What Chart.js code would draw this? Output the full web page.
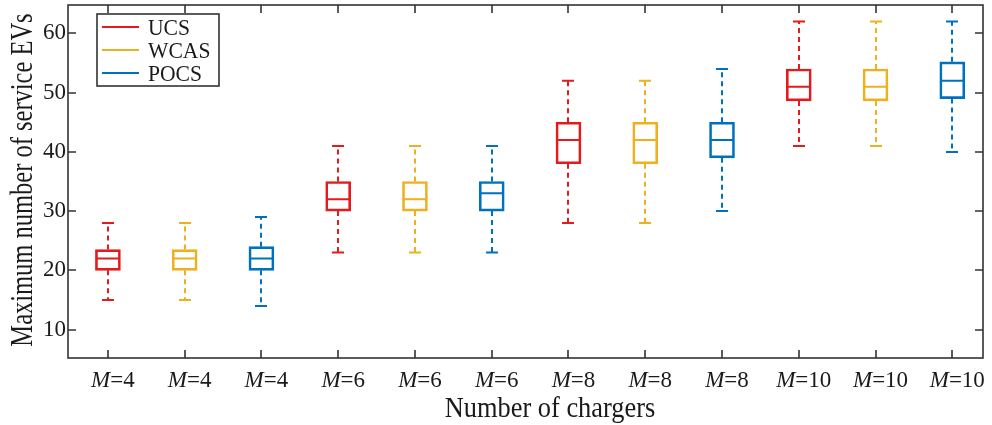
<!DOCTYPE html>
<html>
<head>
<meta charset="utf-8">
<script src="https://cdn.jsdelivr.net/npm/chart.js@4.4.0/dist/chart.umd.min.js"></script>
<style>
  html, body { margin: 0; padding: 0; background: #fff; }
  #wrap { width: 992px; height: 425px; }
</style>
</head>
<body>
<div id="wrap"><canvas id="chart"></canvas></div>
<script>
// tick labels along the bottom, one per box (M is drawn in italics)
const chargerLabels = ['M=4', 'M=4', 'M=4', 'M=6', 'M=6', 'M=6', 'M=8', 'M=8', 'M=8', 'M=10', 'M=10', 'M=10']
const yTicks = [10, 20, 30, 40, 50, 60]

const methodNames = ['UCS', 'WCAS', 'POCS']
const methodColors = ['#E41A1C', '#EDB120', '#0072BD']

// box positions on the x axis for each method (M = 4, 6, 8, 10)
const ucsPos = [1, 4, 7, 10]
const wcasPos = [2, 5, 8, 11]
const pocsPos = [3, 6, 9, 12]

// UCS
const ucsMin = [15, 23, 28, 41]
const ucsQ1 = [20, 30, 38, 48.6]
const ucsMed = [22, 32, 42, 51]
const ucsQ3 = [23.5, 35, 45, 54]
const ucsMax = [28, 41, 52, 62]

// WCAS
const wcasMin = [15, 23, 28, 41]
const wcasQ1 = [20, 30, 38, 48.6]
const wcasMed = [22, 32, 42, 51]
const wcasQ3 = [23.5, 35, 45, 54]
const wcasMax = [28, 41, 52, 62]

// POCS
const pocsMin = [14, 23, 30, 40]
const pocsQ1 = [20, 30, 39, 49]
const pocsMed = [22, 33, 42, 52]
const pocsQ3 = [24, 35, 45, 55.2]
const pocsMax = [29, 41, 54, 62]

const FONT = '"Liberation Serif", "Times New Roman", serif'
const TEXT = '#1a1a1a'
const AXIS = '#333333'

function makeDataset(label, color, pos, mins, q1, med, q3, maxs) {
  return {
    label: label,
    data: pos.map((x, i) => ({ x: x, y: [q1[i], q3[i]] })),
    stats: { min: mins, med: med, max: maxs },
    backgroundColor: 'rgba(0,0,0,0)',
    borderColor: color,
    borderWidth: 2,
    borderSkipped: false,
    barThickness: 25,
    grouped: false
  }
}

// text squeezed horizontally, the source figure uses a narrow serif
function squeezedText(ctx, text, x, y, sx) {
  ctx.save()
  ctx.translate(x, y)
  ctx.scale(sx, 1)
  ctx.fillText(text, 0, 0)
  ctx.restore()
}

const boxExtras = {
  id: 'boxExtras',
  afterDatasetsDraw(chart) {
    const { ctx, scales: { x, y } } = chart
    ctx.save()
    chart.data.datasets.forEach((ds) => {
      ctx.strokeStyle = ds.borderColor
      ctx.lineWidth = 2
      ds.data.forEach((d, i) => {
        const px = Math.round(x.getPixelForValue(d.x))
        const yMin = y.getPixelForValue(ds.stats.min[i])
        const yMax = y.getPixelForValue(ds.stats.max[i])
        const yMed = y.getPixelForValue(ds.stats.med[i])
        const yQ1 = y.getPixelForValue(d.y[0])
        const yQ3 = y.getPixelForValue(d.y[1])

        // dashed whiskers
        ctx.setLineDash([5, 4])
        ctx.beginPath()
        ctx.moveTo(px, yQ3)
        ctx.lineTo(px, yMax)
        ctx.moveTo(px, yQ1)
        ctx.lineTo(px, yMin)
        ctx.stroke()

        // caps and median
        ctx.setLineDash([])
        ctx.beginPath()
        ctx.moveTo(px - 6, yMax)
        ctx.lineTo(px + 6, yMax)
        ctx.moveTo(px - 6, yMin)
        ctx.lineTo(px + 6, yMin)
        ctx.moveTo(px - 12, yMed)
        ctx.lineTo(px + 12, yMed)
        ctx.stroke()
      })
    })
    ctx.restore()
  },
  afterDraw(chart) {
    const { ctx, chartArea: a, scales: { x, y } } = chart
    ctx.save()

    // axes box with inward ticks
    ctx.strokeStyle = AXIS
    ctx.lineWidth = 1.6
    ctx.strokeRect(a.left, a.top, a.right - a.left, a.bottom - a.top)
    ctx.beginPath()
    x.ticks.forEach((t) => {
      const px = Math.round(x.getPixelForValue(t.value))
      ctx.moveTo(px, a.bottom)
      ctx.lineTo(px, a.bottom - 8)
      ctx.moveTo(px, a.top)
      ctx.lineTo(px, a.top + 8)
    })
    y.ticks.forEach((t) => {
      const py = Math.round(y.getPixelForValue(t.value))
      ctx.moveTo(a.left, py)
      ctx.lineTo(a.left + 8, py)
      ctx.moveTo(a.right, py)
      ctx.lineTo(a.right - 8, py)
    })
    ctx.stroke()

    ctx.fillStyle = TEXT

    // y tick labels
    ctx.font = '23px ' + FONT
    ctx.textAlign = 'right'
    ctx.textBaseline = 'middle'
    y.ticks.forEach((t) => {
      ctx.fillText(String(t.value), a.left - 2, y.getPixelForValue(t.value))
    })

    // x tick labels, italic M
    ctx.textAlign = 'left'
    ctx.textBaseline = 'alphabetic'
    x.ticks.forEach((t) => {
      const label = chargerLabels[t.value - 1]
      if (!label) return
      const parts = label.split('=')
      const head = parts[0]
      const tail = '=' + parts[1]
      ctx.font = 'italic 23px ' + FONT
      const w1 = ctx.measureText(head).width
      ctx.font = '23px ' + FONT
      const w2 = ctx.measureText(tail).width
      const start = x.getPixelForValue(t.value) + 5 - (w1 + w2) / 2
      ctx.font = 'italic 23px ' + FONT
      ctx.fillText(head, start, 387)
      ctx.font = '23px ' + FONT
      ctx.fillText(tail, start + w1, 387)
    })

    // axis titles
    ctx.font = '30px ' + FONT
    ctx.textAlign = 'center'
    squeezedText(ctx, 'Number of chargers', 550, 417, 0.88)
    ctx.save()
    ctx.translate(32, 180)
    ctx.rotate(-Math.PI / 2)
    ctx.font = '31px ' + FONT
    squeezedText(ctx, 'Maximum number of service EVs', 0, 0, 0.79)
    ctx.restore()

    // legend
    ctx.fillStyle = '#fff'
    ctx.fillRect(97, 14, 122, 72)
    ctx.strokeStyle = AXIS
    ctx.lineWidth = 1.6
    ctx.strokeRect(97, 14, 122, 72)
    ctx.font = '24px ' + FONT
    ctx.textAlign = 'left'
    ctx.textBaseline = 'alphabetic'
    methodNames.forEach((name, i) => {
      const ly = 27 + i * 23
      ctx.strokeStyle = methodColors[i]
      ctx.lineWidth = 2
      ctx.beginPath()
      ctx.moveTo(102, ly)
      ctx.lineTo(139, ly)
      ctx.stroke()
      ctx.fillStyle = TEXT
      squeezedText(ctx, name, 148, ly + 8, 0.9)
    })

    ctx.restore()
  }
}

new Chart(document.getElementById('chart'), {
  type: 'bar',
  data: {
    datasets: [
      makeDataset(methodNames[0], methodColors[0], ucsPos, ucsMin, ucsQ1, ucsMed, ucsQ3, ucsMax),
      makeDataset(methodNames[1], methodColors[1], wcasPos, wcasMin, wcasQ1, wcasMed, wcasQ3, wcasMax),
      makeDataset(methodNames[2], methodColors[2], pocsPos, pocsMin, pocsQ1, pocsMed, pocsQ3, pocsMax)
    ]
  },
  options: {
    responsive: true,
    maintainAspectRatio: false,
    animation: false,
    layout: {
      padding: { top: 5, right: 9, left: 0, bottom: 0 }
    },
    plugins: {
      legend: { display: false },
      tooltip: { enabled: false }
    },
    scales: {
      x: {
        type: 'linear',
        offset: false,
        min: 0.48,
        max: 12.4,
        grid: { display: false },
        border: { display: false },
        ticks: { display: false },
        afterBuildTicks: (scale) => {
          scale.ticks = chargerLabels.map((l, i) => ({ value: i + 1 }))
        },
        afterFit: (scale) => { scale.height = 67 }
      },
      y: {
        min: 5.2,
        max: 64.8,
        grid: { display: false },
        border: { display: false },
        ticks: { display: false },
        afterBuildTicks: (scale) => {
          scale.ticks = yTicks.map((v) => ({ value: v }))
        },
        afterFit: (scale) => { scale.width = 68 }
      }
    }
  },
  plugins: [boxExtras]
})
</script>
</body>
</html>
